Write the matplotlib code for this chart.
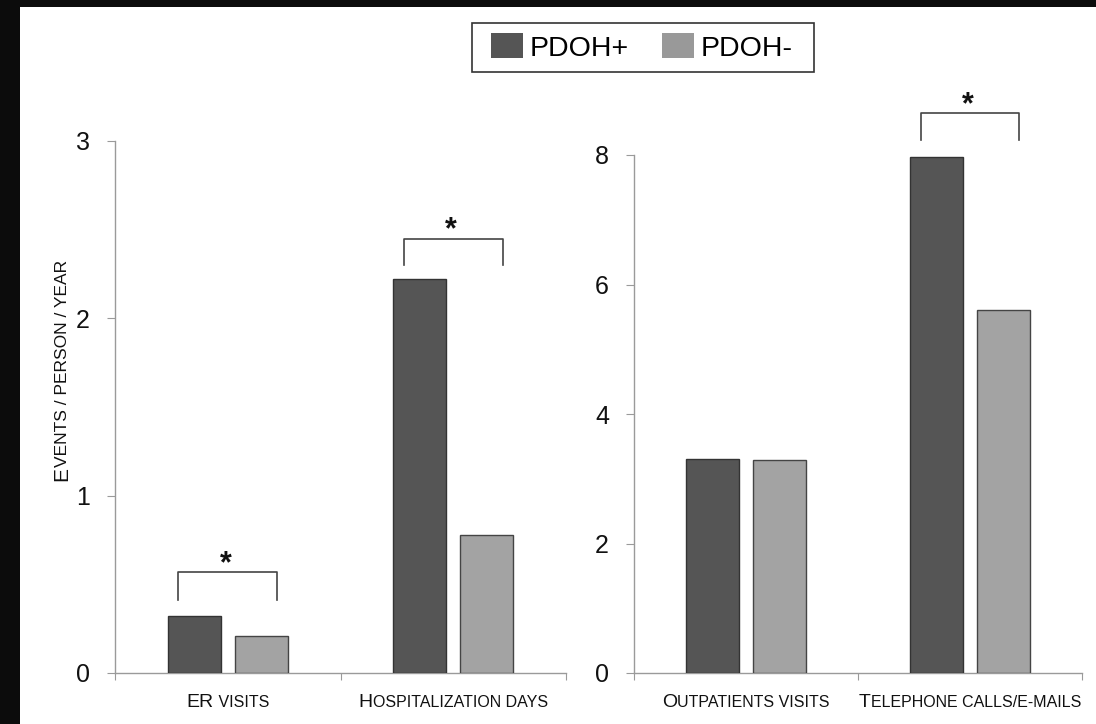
import matplotlib
matplotlib.use("Agg")
from matplotlib import pyplot as plt
from matplotlib.patches import Rectangle, Patch

plt.rcParams['font.family'] = ['Liberation Sans', 'DejaVu Sans']

# data
groups = ['PDOH+', 'PDOH-']
left_categories = ['ER visits', 'Hospitalization days']
left_plus = [0.32, 2.22]
left_minus = [0.21, 0.78]
right_categories = ['Outpatients visits', 'Telephone calls/e-mails']
right_plus = [3.30, 7.97]
right_minus = [3.29, 5.60]
left_ticks = [0, 1, 2, 3]
right_ticks = [0, 2, 4, 6, 8]
# significant differences: (category index, bracket height, leg bottom)
left_sig = [(0, 0.57, 0.41), (1, 2.45, 2.30)]
right_sig = [(1, 8.65, 8.23)]

dark = '#555555'
light = '#a3a3a3'
spine_col = '#9a9a9a'
W, H = 1096, 724

fig = plt.figure(figsize=(W / 100, H / 100), dpi=100)
fig.patch.set_facecolor('#0c0c0c')
# white panel on the dark background
fig.patches.append(Rectangle((20 / W, 0), 1 - 20 / W, 1 - 7 / H,
                             transform=fig.transFigure, facecolor='white',
                             edgecolor='none', zorder=-5))

ax1 = fig.add_axes([115 / W, 51 / H, 451 / W, 532 / H])
ax2 = fig.add_axes([634 / W, 51 / H, 448 / W, 518 / H])

bw = 0.235
off = 0.149


def smallcaps(x, y, text, big=14, small=11.5, rotation=0, color='#111111'):
    # fake small caps: capital letters big, lower case letters as small capitals
    renderer = fig.canvas.get_renderer()
    runs = []
    for ch in text:
        size = big if ch.isupper() else small
        if runs and runs[-1][1] == size:
            runs[-1][0] += ch.upper()
        else:
            runs.append([ch.upper(), size])
    pieces = []
    total = 0
    for s, size in runs:
        t = fig.text(0, 0, s, fontsize=size, color=color, rotation=rotation,
                     ha='left', va='baseline', rotation_mode='anchor')
        bb = t.get_window_extent(renderer)
        w = bb.height if rotation else bb.width
        pieces.append((t, w))
        total += w
    pos = -total / 2
    for t, w in pieces:
        if rotation:
            t.set_position((x / W, 1 - (y - pos) / H))
        else:
            t.set_position((x / W + pos / W, 1 - y / H))
        pos += w


def draw(ax, cats, plus, minus, ticks, sig):
    xs = list(range(len(cats)))
    ax.bar([x - off for x in xs], plus, bw, color=dark, edgecolor='#333333', linewidth=1, zorder=3)
    ax.bar([x + off for x in xs], minus, bw, color=light, edgecolor='#444444', linewidth=1, zorder=3)
    ax.set_xlim(-0.5, len(cats) - 0.5)
    ax.set_ylim(0, ticks[-1])
    ax.set_yticks(ticks)
    ax.set_xticks([x - 0.5 for x in xs] + [len(cats) - 0.5])
    ax.set_xticklabels([])
    for s in ['top', 'right']:
        ax.spines[s].set_visible(False)
    for s in ['left', 'bottom']:
        ax.spines[s].set_color(spine_col)
        ax.spines[s].set_linewidth(1)
    ax.tick_params(axis='y', direction='out', length=6, color=spine_col,
                   labelsize=18, labelcolor='#111111', pad=12)
    ax.tick_params(axis='x', direction='out', length=5, color=spine_col)
    ax.set_facecolor('none')
    for i, top, leg in sig:
        ax.plot([i - 0.22, i - 0.22, i + 0.22, i + 0.22], [leg, top, top, leg],
                color='#444444', lw=1.2, clip_on=False, zorder=4)
        ax.annotate('*', (i - 0.01, top), xytext=(0, -5), textcoords='offset points',
                    ha='center', va='bottom', fontsize=22, fontweight='bold',
                    color='#111111', annotation_clip=False)


draw(ax1, left_categories, left_plus, left_minus, left_ticks, left_sig)
draw(ax2, right_categories, right_plus, right_minus, right_ticks, right_sig)

fig.canvas.draw()
for ax, cats in [(ax1, left_categories), (ax2, right_categories)]:
    for i, c in enumerate(cats):
        px = ax.transData.transform((i, 0))[0]
        smallcaps(px, 707, c)

smallcaps(67, 370, 'Events / person / year', big=15, small=12.5, rotation=90)

# legend box drawn separately so the padding can be wider than tall
fig.patches.append(Rectangle((472 / W, 1 - 72 / H), 342 / W, 49 / H,
                             transform=fig.transFigure, facecolor='white',
                             edgecolor='#333333', linewidth=1.2, zorder=5))
handles = [Patch(facecolor=dark, edgecolor='none'), Patch(facecolor='#999999', edgecolor='none')]
leg = fig.legend(handles, groups, loc='center left', bbox_to_anchor=(491 / W, 1 - 47.5 / H),
                 ncol=2, fontsize=20.5, frameon=False, borderpad=0, borderaxespad=0,
                 handlelength=1.12, handleheight=0.95, handletextpad=0.25,
                 columnspacing=1.15)
leg.set_zorder(6)

fig.savefig('out.png', dpi=100, facecolor=fig.get_facecolor())
